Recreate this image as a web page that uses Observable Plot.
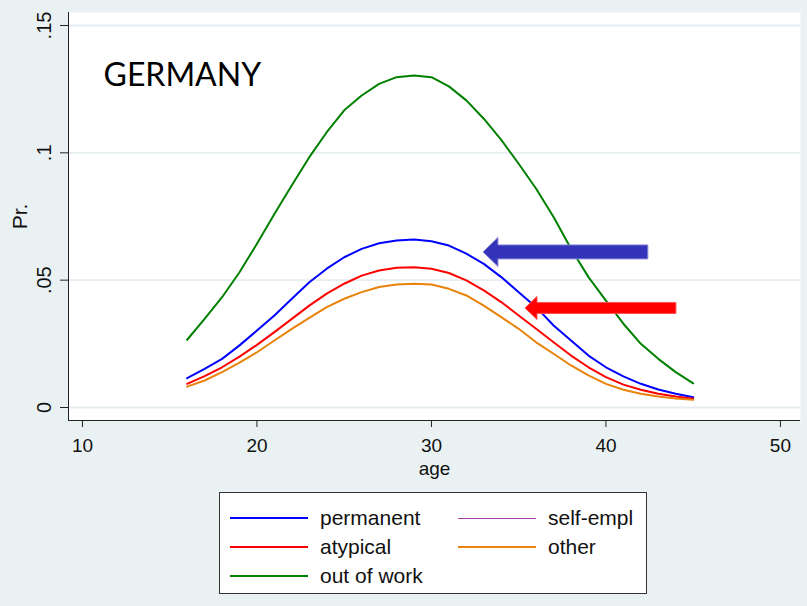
<!DOCTYPE html>
<html>
<head>
<meta charset="utf-8">
<script src="https://cdn.jsdelivr.net/npm/d3@7"></script>
<script src="https://cdn.jsdelivr.net/npm/@observablehq/plot@0.6"></script>
<style>
html, body { margin: 0; padding: 0; background: #eaf1f3; }
body { width: 807px; height: 606px; overflow: hidden; position: relative; font-family: "Liberation Sans", Arial, sans-serif; }
#chart svg { display: block; }
#legend { position: absolute; left: 219px; top: 492px; width: 428px; height: 102px; box-sizing: border-box; background: #fff; border: 1px solid #333; }
.item { position: absolute; height: 24px; display: flex; align-items: center; font-size: 21px; color: #111; white-space: nowrap; }
.swatch { width: 78px; height: 0; margin-right: 12px; }
</style>
</head>
<body>
<div id="chart"></div>
<div id="legend"></div>
<script>
// ---- data ----
const ages = [16,17,18,19,20,21,22,23,24,25,26,27,28,29,30,31,32,33,34,35,36,37,38,39,40,41,42,43,44,45];
const permanent = [0.0115,0.0152,0.0191,0.0244,0.0302,0.0361,0.0427,0.0492,0.0545,0.0590,0.0623,0.0645,0.0656,0.0660,0.0653,0.0636,0.0604,0.0564,0.0512,0.0453,0.0394,0.0322,0.0263,0.0204,0.0158,0.0122,0.0093,0.0071,0.0054,0.0040];
const atypical = [0.0093,0.0123,0.0158,0.0200,0.0246,0.0296,0.0348,0.0400,0.0447,0.0486,0.0518,0.0538,0.0549,0.0551,0.0545,0.0528,0.0499,0.0460,0.0414,0.0361,0.0309,0.0256,0.0204,0.0158,0.0119,0.0090,0.0070,0.0054,0.0043,0.0034];
const outOfWork = [0.0266,0.0348,0.0433,0.0531,0.0643,0.0760,0.0873,0.0983,0.1081,0.1167,0.1225,0.1271,0.1297,0.1304,0.1297,0.1261,0.1206,0.1134,0.1051,0.0957,0.0859,0.0748,0.0623,0.0512,0.0420,0.0329,0.0250,0.0191,0.0139,0.0095];
const other = [0.0082,0.0106,0.0139,0.0176,0.0217,0.0263,0.0309,0.0352,0.0394,0.0427,0.0453,0.0473,0.0483,0.0486,0.0483,0.0466,0.0440,0.0400,0.0355,0.0309,0.0256,0.0211,0.0165,0.0126,0.0093,0.0070,0.0054,0.0043,0.0035,0.0030];

const seriesNames = ["permanent", "atypical", "self-empl", "out of work", "other"];
const seriesColors = ["#0000ff", "#ff0000", "#a040a0", "#008000", "#e8820a"];
const drawnSeries = [["permanent", permanent], ["atypical", atypical], ["out of work", outOfWork], ["other", other]];

const xTicks = [10, 20, 30, 40, 50];
const yTicks = [0, 0.05, 0.1, 0.15];
const yTickLabels = ["0", ".05", ".1", ".15"];
const xDomain = [9.2, 51.15];
const yDomain = [-0.0051, 0.1551];

const titleText = "GERMANY";
// arrow annotations (data units)
const arrowTip = [32.98, 35.39];
const arrowTail = [42.43, 44.04];
const arrowY = [0.0609, 0.0389];
const arrowColors = ["#3434bb", "#ff0000"];

// ---- build ----
const rows = [];
for (const [name, vals] of drawnSeries) {
  ages.forEach((a, i) => rows.push({series: name, age: a, value: vals[i]}));
}

const arrowStyle = [
  {headLen: 15, headHalf: 14.5, shaftHalf: 7, stroke: "#8a8ad8"},
  {headLen: 12, headHalf: 11.5, shaftHalf: 5.5, stroke: "#ff5050"}
];

const arrowMark = (index, scales) => {
  const g = d3.create("svg:g");
  arrowTip.forEach((tip, i) => {
    const xt = scales.x(tip), xe = scales.x(arrowTail[i]), yc = scales.y(arrowY[i]);
    const s = arrowStyle[i];
    const d = `M${xt},${yc} L${xt + s.headLen},${yc - s.headHalf} L${xt + s.headLen},${yc - s.shaftHalf} L${xe},${yc - s.shaftHalf} L${xe},${yc + s.shaftHalf} L${xt + s.headLen},${yc + s.shaftHalf} L${xt + s.headLen},${yc + s.headHalf} Z`;
    g.append("path").attr("d", d).attr("fill", arrowColors[i]).attr("stroke", s.stroke).attr("stroke-width", 1).attr("stroke-linejoin", "miter");
  });
  return g.node();
};

const narrow = "'Liberation Sans Narrow', 'Arial Narrow', 'Liberation Sans', Arial, sans-serif";

const chart = Plot.plot({
  width: 807,
  height: 486,
  marginLeft: 68,
  marginRight: 7,
  marginTop: 12,
  marginBottom: 66,
  x: {domain: xDomain, axis: null},
  y: {domain: yDomain, axis: null},
  color: {domain: seriesNames, range: seriesColors},
  style: {background: "transparent", color: "#111", fontFamily: "'Liberation Sans', Arial, sans-serif", overflow: "visible"},
  marks: [
    Plot.frame({fill: "white", stroke: "none"}),
    Plot.ruleY(yTicks, {stroke: "#e6eef1", strokeWidth: 1.8}),
    Plot.line(rows, {x: "age", y: "value", stroke: "series", z: "series", strokeWidth: 2}),
    arrowMark,
    Plot.ruleX([xDomain[0]], {stroke: "#222", strokeWidth: 1}),
    Plot.ruleY([yDomain[0]], {stroke: "#222", strokeWidth: 1}),
    Plot.axisY({ticks: yTicks, tickSize: 8, fill: "none", stroke: "#222", label: null}),
    Plot.text(yTicks, {y: d => d, text: (d, i) => yTickLabels[i], frameAnchor: "left", dx: -24, rotate: -90, fontSize: 20, textAnchor: "middle", lineAnchor: "middle", fill: "#111"}),
    Plot.text(["Pr."], {frameAnchor: "left", dx: -48, rotate: -90, fontSize: 21, textAnchor: "middle", lineAnchor: "middle", fill: "#111"}),
    Plot.axisX({ticks: xTicks, tickSize: 7, tickPadding: 11, fontSize: 19, fontFamily: narrow, stroke: "#222", fill: "#111", label: null}),
    Plot.text(["age"], {frameAnchor: "bottom", dy: 48, fontSize: 19, fontFamily: narrow, lineAnchor: "middle", fill: "#111"}),
    Plot.text([titleText], {frameAnchor: "top-left", dx: 35, dy: 63, textAnchor: "start", lineAnchor: "middle", fontSize: 32, fontFamily: "Lato, 'Open Sans', sans-serif", fill: "#000"})
  ]
});
document.getElementById("chart").appendChild(chart);

// ---- legend ----
const legendLayout = [
  {name: "permanent", left: 10, top: 13, width: 2},
  {name: "self-empl", left: 238, top: 13, width: 1},
  {name: "atypical", left: 10, top: 42, width: 2},
  {name: "other", left: 238, top: 42, width: 2},
  {name: "out of work", left: 10, top: 71, width: 2}
];
const legend = document.getElementById("legend");
for (const it of legendLayout) {
  const color = seriesColors[seriesNames.indexOf(it.name)];
  const div = document.createElement("div");
  div.className = "item";
  div.style.left = it.left + "px";
  div.style.top = it.top + "px";
  const sw = document.createElement("span");
  sw.className = "swatch";
  sw.style.borderTop = `${it.width}px solid ${color}`;
  const tx = document.createElement("span");
  tx.textContent = it.name;
  div.appendChild(sw);
  div.appendChild(tx);
  legend.appendChild(div);
}
</script>
</body>
</html>
